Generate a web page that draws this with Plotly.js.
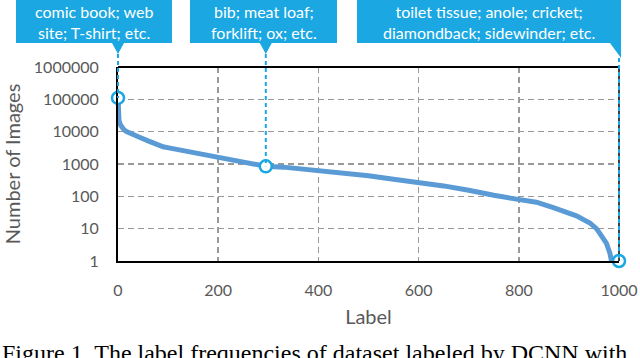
<!DOCTYPE html>
<html>
<head>
<meta charset="utf-8">
<script src="https://cdn.plot.ly/plotly-3.0.1.min.js"></script>
<style>html,body{margin:0;padding:0;background:#fff;overflow:hidden}#chart{width:640px;height:358px}</style>
</head>
<body>
<div id="chart"></div>
<script>
// ---- data ----
const labelIndex = [0, 1, 2, 5, 8, 12, 17, 30, 44, 60, 77, 90, 104, 130, 164, 200, 230, 260, 295, 330, 403, 450, 500, 550, 603, 650, 700, 723, 750, 789, 810, 835, 869, 900, 915, 942, 955, 962, 970, 975, 982, 985, 1000];
const imageCount = [110000, 30000, 22000, 16000, 13500, 11500, 10000, 7800, 6600, 5200, 4100, 3400, 3100, 2600, 2200, 1750, 1400, 1150, 850, 800, 640, 540, 435, 340, 270, 210, 155, 127, 108, 85, 77, 66, 45, 31, 25, 15, 10, 7, 4.8, 3.5, 1.7, 1, 1];
const calloutLabel = [0, 295, 1000];
const calloutCount = [110000, 850, 1];
const calloutText = ["comic book; web<br>site; T-shirt; etc.", "bib; meat loaf;<br>forklift; ox; etc.", "toilet tissue; anole; cricket;<br>diamondback; sidewinder; etc."];
const xTicks = [0, 200, 400, 600, 800, 1000];
const yTicks = [1, 10, 100, 1000, 10000, 100000, 1000000];
const yTickText = ["1", "10", "100", "1000", "10000", "100000", "1000000"];

// ---- layout geometry ----
const W = 640, H = 358, L = 118, R = 21, T = 67, B = 97;
const pw = W - L - R, ph = H - T - B;
const XR = [0, 1000], YR = [0, 6];
const PX = p => (p - L) / pw;          // pixel -> paper x
const PY = p => (H - B - p) / ph;      // pixel -> paper y
const dataPX = x => (x - XR[0]) / (XR[1] - XR[0]);
const dataPY = v => (Math.log10(v) - YR[0]) / (YR[1] - YR[0]);

const calloutBlue = '#1AA7E2';
const grey = '#595959';
const boxes = [
  {x0: 16, x1: 172, tip: 54, tail: 'center'},
  {x0: 190, x1: 337, tip: 54, tail: 'center'},
  {x0: 357, x1: 621, tip: 58, tail: 'right'}
];

const shapes = [];
const annotations = [];
// top border and right border (black); blue dashed connector drawn over the right one
shapes.push({type: 'line', xref: 'paper', yref: 'paper', x0: 0, x1: 1, y0: 1, y1: 1, line: {color: '#000', width: 2}, layer: 'above'});
shapes.push({type: 'line', xref: 'paper', yref: 'paper', x0: 1, x1: 1, y0: 0, y1: 1, line: {color: '#000', width: 1.5}, layer: 'above'});
boxes.forEach((b, i) => {
  const cx = dataPX(calloutLabel[i]);
  shapes.push({type: 'rect', xref: 'paper', yref: 'paper', x0: PX(b.x0), x1: PX(b.x1), y0: PY(43), y1: PY(0),
    fillcolor: calloutBlue, line: {width: 0}, layer: 'above'});
  let path;
  if (b.tail === 'center') {
    path = `M ${cx - 6 / pw} ${PY(43)} L ${cx + 6 / pw} ${PY(43)} L ${cx} ${PY(b.tip)} Z`;
  } else {
    path = `M ${PX(610)} ${PY(43)} L ${PX(b.x1)} ${PY(43)} L ${PX(b.x1)} ${PY(b.tip)} Z`;
  }
  shapes.push({type: 'path', xref: 'paper', yref: 'paper', path: path, fillcolor: calloutBlue, line: {width: 0}, layer: 'above'});
  shapes.push({type: 'line', xref: 'paper', yref: 'paper', x0: cx, x1: cx, y0: PY(b.tip), y1: dataPY(calloutCount[i]),
    line: {color: calloutBlue, width: 2, dash: '4px,3px'}, layer: 'above'});
  annotations.push({xref: 'paper', yref: 'paper', x: PX((b.x0 + b.x1) / 2), y: PY(22), xanchor: 'center', yanchor: 'middle',
    text: calloutText[i], showarrow: false, font: {family: 'Lato', size: 16, color: '#ffffff'}, align: 'center'});
});

annotations.push({xref: 'paper', yref: 'paper', x: PX(0), y: PY(353), xanchor: 'left', yanchor: 'middle', showarrow: false,
  text: 'Figure 1. The label frequencies of dataset labeled by DCNN with', font: {family: 'Liberation Serif', size: 24, color: '#000'}});

const traces = [
  {x: labelIndex, y: imageCount, type: 'scatter', mode: 'lines', line: {color: '#5B9BD5', width: 5}, hoverinfo: 'skip'},
  {x: calloutLabel, y: calloutCount, type: 'scatter', mode: 'markers', cliponaxis: false,
    marker: {size: 12, color: '#ffffff', line: {color: calloutBlue, width: 2.5}}}
];

const layout = {
  width: W, height: H, margin: {l: L, r: R, t: T, b: B}, showlegend: false,
  paper_bgcolor: '#fff', plot_bgcolor: '#fff',
  font: {family: 'Lato', color: grey},
  xaxis: {range: XR, tickvals: xTicks, ticks: '', ticklabelstandoff: 14, tickfont: {size: 16, color: grey},
    showgrid: true, gridcolor: '#999999', griddash: '6px,4px', gridwidth: 1.5, zeroline: false,
    showline: true, linecolor: '#000', linewidth: 2,
    title: {text: 'Label', font: {size: 20, color: grey}, standoff: 12}},
  yaxis: {type: 'log', range: YR, tickvals: yTicks, ticktext: yTickText, ticks: '', ticklabelstandoff: 14,
    tickfont: {size: 16, color: grey},
    showgrid: true, gridcolor: '#999999', griddash: '6px,4px', gridwidth: 1.5, zeroline: false,
    showline: true, linecolor: '#000', linewidth: 2,
    title: {text: 'Number of Images', font: {size: 20, color: grey}, standoff: 10}},
  shapes: shapes, annotations: annotations
};
Plotly.newPlot('chart', traces, layout, {displayModeBar: false, staticPlot: true});
</script>
</body>
</html>
